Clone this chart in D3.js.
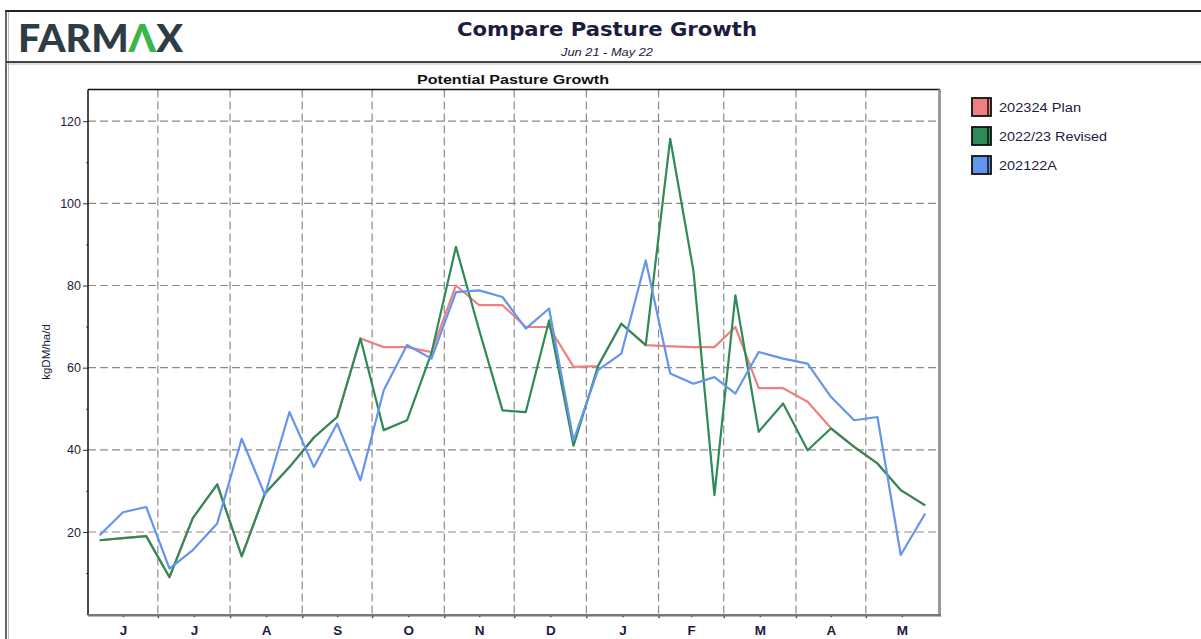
<!DOCTYPE html>
<html><head><meta charset="utf-8">
<script src="https://cdn.jsdelivr.net/npm/d3@7"></script>
<style>body{margin:0;background:#fff}svg{display:block}</style>
</head><body><svg id="c" width="1201" height="639"></svg>
<script>
// ---- data ----
const monthLabels = ["J","J","A","S","O","N","D","J","F","M","A","M"];
const yTicks = [20,40,60,80,100,120];
const yMinorTicks = [10,30,50,70,90,110];
const seriesNames = ["202324 Plan","2022/23 Revised","202122A"];
const seriesColors = ["#f08080","#2e8b57","#6495ed"];
// three dekads (1-10, 11-20, 21-end) per month, Jun 2021 - May 2022
const plan = [18.0,18.5,19.0, 9.0,23.4,31.6, 14.1,29.4,35.8, 43.0,48.0,67.1, 65.0,65.0,63.8, 80.0,75.2,75.2,
              69.9,69.9,60.2, 60.4,70.7,65.5, 65.2,65.0,65.0, 69.9,55.0,55.0, 51.7,45.3,40.7, 36.7,30.2,26.5];
const revised = [18.0,18.5,19.0, 9.0,23.4,31.6, 14.1,29.4,35.8, 43.0,48.0,67.1, 44.8,47.2,63.6, 89.4,69.1,49.6,
              49.2,71.5,41.0, 60.4,70.7,65.5, 115.7,83.5,29.0, 77.6,44.4,51.3, 39.9,45.2,40.7, 36.7,30.2,26.5];
const actual = [19.2,24.8,26.1, 11.1,15.6,22.1, 42.7,29.0,49.2, 35.8,46.4,32.6, 54.5,65.5,62.2, 78.4,78.8,77.2,
              69.5,74.4,42.3, 59.4,63.4,86.1, 58.6,56.1,57.7, 53.7,63.8,62.2, 61.0,52.9,47.2, 48.0,14.4,24.5];
const seriesValues = [plan, revised, actual];

// ---- geometry ----
const svg = d3.select("#c");
const navy = "#1c1c40";
const L = 88, R = 938, T = 89.5, B = 614.2;
const start = Date.UTC(2021,5,1), end = Date.UTC(2022,5,1);
const x = d3.scaleUtc().domain([start, end]).range([L, R]);
const y = d3.scaleLinear().domain([0,127.7]).range([B, T]);

const monthStarts = d3.utcMonth.range(new Date(start), new Date(end));
const boundaries = monthStarts.slice(1);
const monthMids = monthStarts.map(m => new Date((m.getTime() + d3.utcMonth.offset(m,1).getTime())/2));
const dekadDates = [];
monthStarts.forEach(m => {
  const len = d3.utcDay.count(m, d3.utcMonth.offset(m,1));
  [5, 15, (20+len)/2].forEach(o => dekadDates.push(new Date(m.getTime() + o*864e5)));
});

svg.append("rect").attr("width",1201).attr("height",639).attr("fill","#fff");

// ---- page frame ----
svg.append("line").attr("x1",5).attr("x2",1201).attr("y1",11).attr("y2",11).attr("stroke","#222").attr("stroke-width",2);
svg.append("line").attr("x1",6).attr("x2",6).attr("y1",10).attr("y2",639).attr("stroke","#333").attr("stroke-width",1.5);
svg.append("line").attr("x1",8.5).attr("x2",8.5).attr("y1",12).attr("y2",639).attr("stroke","#bbb").attr("stroke-width",1);
svg.append("line").attr("x1",6).attr("x2",1201).attr("y1",62).attr("y2",62).attr("stroke","#444").attr("stroke-width",2);
svg.append("line").attr("x1",6).attr("x2",1201).attr("y1",64).attr("y2",64).attr("stroke","#bbb").attr("stroke-width",1);

// ---- logo ----
const logo = svg.append("text").attr("x",18).attr("y",52)
  .attr("font-family","Lato, 'Open Sans', sans-serif").attr("font-weight",900)
  .attr("font-size",38).attr("fill","#2e3d45")
  .attr("textLength",165).attr("lengthAdjust","spacingAndGlyphs");
logo.append("tspan").text("FARM");
logo.append("tspan").attr("fill","#3ab54a").text("Λ");
logo.append("tspan").text("X");

// ---- titles ----
svg.append("text").attr("x",607).attr("y",36).attr("text-anchor","middle")
  .attr("font-family","'DejaVu Sans', Verdana, sans-serif").attr("font-weight","bold")
  .attr("font-size",20).attr("fill",navy)
  .attr("textLength",300).attr("lengthAdjust","spacingAndGlyphs").text("Compare Pasture Growth");
svg.append("text").attr("x",607).attr("y",56).attr("text-anchor","middle")
  .attr("font-family","'Liberation Sans', Arial, sans-serif").attr("font-style","italic")
  .attr("font-size",11).attr("fill",navy)
  .attr("textLength",92).attr("lengthAdjust","spacingAndGlyphs").text("Jun 21 - May 22");
svg.append("text").attr("x",(L+R)/2).attr("y",84).attr("text-anchor","middle")
  .attr("font-family","'Liberation Sans', Arial, sans-serif").attr("font-weight","bold")
  .attr("font-size",13).attr("fill","#111")
  .attr("textLength",192).attr("lengthAdjust","spacingAndGlyphs").text("Potential Pasture Growth");

// ---- grid ----
const grid = svg.append("g").attr("stroke","#8a8a8a").attr("stroke-width",1.2).attr("stroke-dasharray","8,4").attr("fill","none");
grid.selectAll(".h").data(yTicks).join("line")
  .attr("x1",L).attr("x2",R).attr("y1",d=>y(d)).attr("y2",d=>y(d));
grid.selectAll(".v").data(boundaries).join("line")
  .attr("x1",d=>x(d)).attr("x2",d=>x(d)).attr("y1",T).attr("y2",B);

// ---- axes ----
const ax = svg.append("g").attr("transform",`translate(${L},0)`)
  .call(d3.axisLeft(y).tickValues(yTicks).tickSize(5).tickPadding(2).tickFormat(d3.format("d")));
ax.select(".domain").remove();
ax.selectAll("text").attr("font-family","'Liberation Sans', Arial, sans-serif").attr("font-size",12.5).attr("fill",navy);
ax.selectAll("line").attr("stroke","#333");
const axm = svg.append("g").attr("transform",`translate(${L},0)`)
  .call(d3.axisLeft(y).tickValues(yMinorTicks).tickSize(2).tickFormat(""));
axm.select(".domain").remove();
axm.selectAll("line").attr("stroke","#555");

const bx = svg.append("g").attr("transform",`translate(0,${B})`)
  .call(d3.axisBottom(x).tickValues(boundaries).tickSize(4).tickFormat(""));
bx.select(".domain").remove();
bx.selectAll("line").attr("stroke","#555").attr("stroke-width",1.5);
const bm = svg.append("g").attr("transform",`translate(0,${B})`)
  .call(d3.axisBottom(x).tickValues(monthMids).tickSize(3).tickPadding(8).tickFormat((d,i)=>monthLabels[i]));
bm.select(".domain").remove();
bm.selectAll("line").attr("stroke","#333").attr("stroke-width",1.5);
bm.selectAll("text").attr("font-family","'Liberation Sans', Arial, sans-serif").attr("font-weight","bold")
  .attr("font-size",13.5).attr("fill",navy);

svg.append("text").attr("transform","translate(50,352) rotate(-90)").attr("text-anchor","middle")
  .attr("font-family","'Liberation Sans', Arial, sans-serif").attr("font-size",11.5).attr("fill",navy)
  .text("kgDM/ha/d");

// ---- plot frame ----
svg.append("line").attr("x1",L).attr("x2",R+2).attr("y1",T).attr("y2",T).attr("stroke","#111").attr("stroke-width",1.5);
svg.append("line").attr("x1",L).attr("x2",L).attr("y1",T).attr("y2",B+1).attr("stroke","#111").attr("stroke-width",1.5);
svg.append("line").attr("x1",R+1.5).attr("x2",R+1.5).attr("y1",T).attr("y2",B+2).attr("stroke","#999").attr("stroke-width",3);
svg.append("line").attr("x1",L).attr("x2",R+3).attr("y1",B+1).attr("y2",B+1).attr("stroke","#777").attr("stroke-width",2.5);

// ---- lines ----
const line = d3.line().x((d,i)=>x(dekadDates[i])).y(d=>y(d));
svg.append("g").selectAll("path").data(seriesValues).join("path")
  .attr("d",line).attr("fill","none").attr("stroke",(d,i)=>seriesColors[i])
  .attr("stroke-width",2.2).attr("stroke-linejoin","round");

// ---- legend ----
const lg = svg.append("g").selectAll("g").data(seriesNames).join("g")
  .attr("transform",(d,i)=>`translate(972,${98+i*29})`);
lg.append("rect").attr("width",19).attr("height",18).attr("fill",(d,i)=>seriesColors[i])
  .attr("stroke","#111").attr("stroke-width",1.8);
lg.append("line").attr("x1",16).attr("x2",16).attr("y1",0).attr("y2",18).attr("stroke","#111").attr("stroke-width",1.5);
const legendWidths = [82,108,58];
lg.append("text").attr("x",27).attr("y",14).attr("font-family","'Liberation Sans', Arial, sans-serif")
  .attr("font-size",12.5).attr("fill",navy)
  .attr("textLength",(d,i)=>legendWidths[i]).attr("lengthAdjust","spacingAndGlyphs").text(d=>d);
</script></body></html>
